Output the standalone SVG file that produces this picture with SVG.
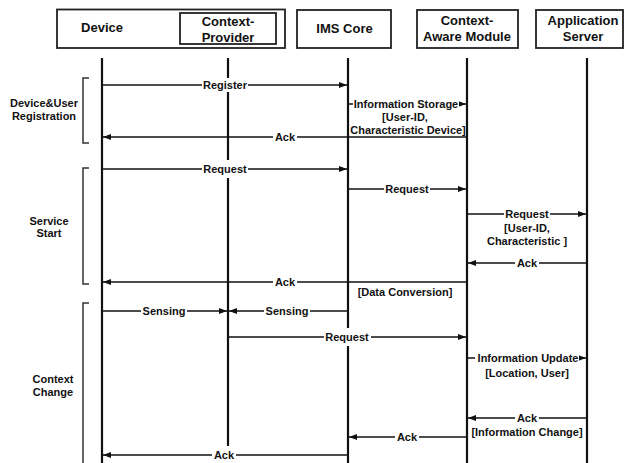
<svg xmlns="http://www.w3.org/2000/svg" width="632" height="463" viewBox="0 0 632 463">
  <style>
    text { font-family: "Liberation Sans", Arial, sans-serif; font-weight: bold; fill: #111; text-anchor: middle; }
    .hd { font-size: 13px; }
    .lb { font-size: 11px; }
    .box { fill: #fff; stroke: #222; stroke-width: 1.8; }
    .life { stroke: #111; stroke-width: 2.2; fill: none; }
    .msg { stroke: #111; stroke-width: 1.4; fill: none; marker-end: url(#arrow); }
    .bg { fill: #fff; }
    .brk { stroke: #333; stroke-width: 1.5; fill: none; }
  </style>
  <defs>
    <marker id="arrow" markerUnits="userSpaceOnUse" markerWidth="9" markerHeight="7" refX="8" refY="3" orient="auto">
      <path d="M0,0 L8,3 L0,6 z" fill="#111"/>
    </marker>
  </defs>
  <rect width="632" height="463" fill="#fff"/>

  <!-- participants -->
  <g id="device">
    <rect class="box" x="57" y="9.5" width="228" height="38.5"/>
    <text class="hd" x="102" y="32">Device</text>
    <line class="life" x1="102" y1="58" x2="102" y2="463"/>
  </g>
  <g id="context-provider">
    <rect class="box" x="180" y="13" width="96" height="31"/>
    <text class="hd" x="228" y="25.5">Context-</text>
    <text class="hd" x="228" y="41.5">Provider</text>
    <line class="life" x1="228" y1="58" x2="228" y2="463"/>
  </g>
  <g id="ims-core">
    <rect class="box" x="297" y="10" width="94" height="38"/>
    <text class="hd" x="344.5" y="33">IMS Core</text>
    <line class="life" x1="348" y1="58" x2="348" y2="463"/>
  </g>
  <g id="context-aware-module">
    <rect class="box" x="417" y="10" width="101" height="38"/>
    <text class="hd" x="467" y="25">Context-</text>
    <text class="hd" x="467" y="41">Aware Module</text>
    <line class="life" x1="467" y1="58" x2="467" y2="463"/>
  </g>
  <g id="application-server">
    <rect class="box" x="536" y="10" width="87" height="38"/>
    <text class="hd" x="583" y="24.5">Application</text>
    <text class="hd" x="583" y="41">Server</text>
    <line class="life" x1="587" y1="58" x2="587" y2="463"/>
  </g>

  <!-- phase brackets -->
  <g id="phases">
    <path class="brk" d="M89,78 H83 V143 H89"/>
    <text class="lb" x="44" y="107">Device&amp;User</text>
    <text class="lb" x="44" y="119.5">Registration</text>
    <path class="brk" d="M89,168 H83 V284 H89"/>
    <text class="lb" x="49" y="225">Service</text>
    <text class="lb" x="49" y="237">Start</text>
    <path class="brk" d="M89,303 H83 V470"/>
    <text class="lb" x="53" y="383">Context</text>
    <text class="lb" x="53" y="395.5">Change</text>
  </g>

  <!-- messages -->
  <g id="connectors">
    <line class="msg" x1="102" y1="85" x2="347" y2="85"/>
    <line class="msg" x1="348" y1="104" x2="466" y2="104"/>
    <line class="msg" x1="467" y1="137" x2="103" y2="137"/>
    <line class="msg" x1="102" y1="169" x2="347" y2="169"/>
    <line class="msg" x1="348" y1="189" x2="466" y2="189"/>
    <line class="msg" x1="467" y1="214" x2="586" y2="214"/>
    <line class="msg" x1="587" y1="263" x2="468" y2="263"/>
    <line class="msg" x1="467" y1="282" x2="103" y2="282"/>
    <line class="msg" x1="102" y1="311" x2="227" y2="311"/>
    <line class="msg" x1="348" y1="311" x2="229" y2="311"/>
    <line class="msg" x1="228" y1="337" x2="466" y2="337"/>
    <line class="msg" x1="467" y1="358" x2="586" y2="358"/>
    <line class="msg" x1="587" y1="418" x2="468" y2="418"/>
    <line class="msg" x1="467" y1="437" x2="349" y2="437"/>
    <line class="msg" x1="348" y1="455" x2="103" y2="455"/>

    <!-- message labels -->
    <g id="m-register"><rect class="bg" x="202" y="78" width="46" height="14"/><text class="lb" x="225" y="89">Register</text></g>
    <g id="m-storage"><rect class="bg" x="353" y="97" width="106" height="14"/><text class="lb" x="406" y="108">Information Storage</text>
      <text class="lb" x="405" y="121">[User-ID,</text><text class="lb" x="408" y="134">Characteristic Device]</text></g>
    <g id="m-ack1"><rect class="bg" x="273" y="130" width="24" height="14"/><text class="lb" x="285" y="141">Ack</text></g>
    <g id="m-request1"><rect class="bg" x="202" y="160" width="46" height="18"/><text class="lb" x="225" y="173">Request</text></g>
    <g id="m-request2"><rect class="bg" x="384" y="182" width="46" height="14"/><text class="lb" x="407" y="193">Request</text></g>
    <g id="m-request3"><rect class="bg" x="504" y="207" width="46" height="14"/><text class="lb" x="527" y="218">Request</text>
      <text class="lb" x="527" y="231.5">[User-ID,</text><text class="lb" x="527" y="245">Characteristic ]</text></g>
    <g id="m-ack2"><rect class="bg" x="515" y="256" width="24" height="14"/><text class="lb" x="527" y="267">Ack</text></g>
    <g id="m-ack3"><rect class="bg" x="273" y="275" width="24" height="14"/><text class="lb" x="285" y="286">Ack</text>
      <text class="lb" x="405" y="296">[Data Conversion]</text></g>
    <g id="m-sensing1"><rect class="bg" x="141" y="304" width="46" height="14"/><text class="lb" x="164" y="315">Sensing</text></g>
    <g id="m-sensing2"><rect class="bg" x="264" y="304" width="46" height="14"/><text class="lb" x="287" y="315">Sensing</text></g>
    <g id="m-request4"><rect class="bg" x="324" y="328" width="47" height="18"/><text class="lb" x="347" y="341">Request</text></g>
    <g id="m-update"><rect class="bg" x="475" y="351" width="104" height="14"/><text class="lb" x="528" y="362">Information Update</text>
      <text class="lb" x="527" y="377">[Location, User]</text></g>
    <g id="m-ack4"><rect class="bg" x="515" y="411" width="24" height="14"/><text class="lb" x="527" y="422">Ack</text>
      <text class="lb" x="527" y="436">[Information Change]</text></g>
    <g id="m-ack5"><rect class="bg" x="395" y="430" width="24" height="14"/><text class="lb" x="407" y="441">Ack</text></g>
    <g id="m-ack6"><rect class="bg" x="212" y="446" width="24" height="18"/><text class="lb" x="224" y="459">Ack</text></g>
  </g>
</svg>
